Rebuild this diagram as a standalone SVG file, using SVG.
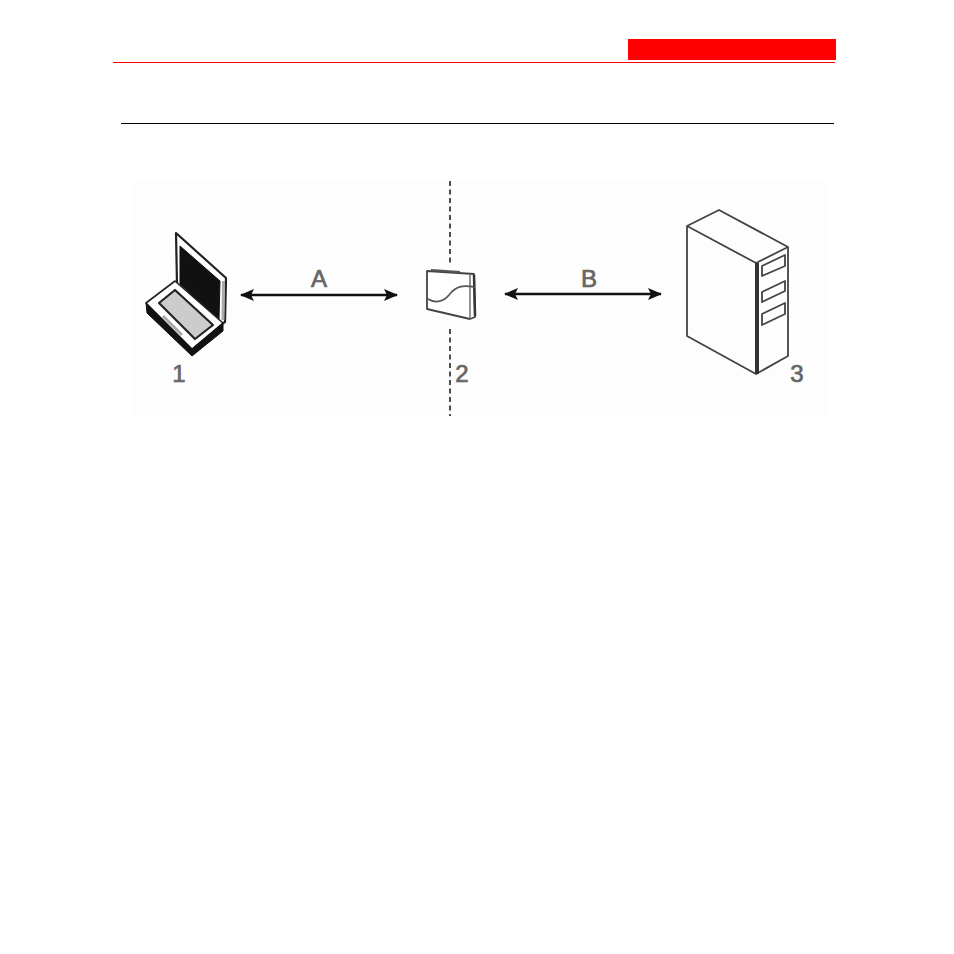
<svg xmlns="http://www.w3.org/2000/svg" width="954" height="954" viewBox="0 0 954 954">
<style>
.lbl{font-family:"Liberation Sans",Arial,sans-serif;font-size:24px;fill:#666;stroke:#666;stroke-width:.7;text-anchor:middle}
.ln{fill:none;stroke:#444;stroke-width:1.8;stroke-linejoin:round}
.dash{stroke:#222;stroke-width:1.6;stroke-dasharray:5 3.5;fill:none}
.arr{stroke:#111;stroke-width:2.4;fill:none;marker-start:url(#h);marker-end:url(#h)}
</style>
<defs>
<marker id="h" viewBox="0 0 14 12" refX="13" refY="6" markerWidth="14" markerHeight="12" markerUnits="userSpaceOnUse" orient="auto-start-reverse"><path d="M0 0L14 6L0 12L3 6Z" fill="#111"/></marker>
</defs>
<rect width="954" height="954" fill="#fff"/>
<g id="header">
<rect x="628" y="39" width="208" height="21" fill="#f00"/>
<rect x="113" y="62" width="722" height="1" fill="#f00"/>
<rect x="121" y="123" width="713" height="1" fill="#000"/>
</g>
<rect id="figure-bg" x="133" y="181" width="694" height="235" fill="#fdfdfd"/>
<g id="boundary">
<path class="dash" d="M450 181V264M450 329V416"/>
</g>
<g id="connectors">
<path class="arr" d="M241 295H397"/>
<path class="arr" d="M505 294H661"/>
</g>
<g id="laptop">
<path d="M176 233L226 278L225 322L222 324L177 284Z" fill="#fff" stroke="#222" stroke-width="2.2" stroke-linejoin="round"/>
<path d="M180 246L220 281L219 320L180 284Z" fill="#111" stroke="#111"/>
<path d="M223.500 281L223 320" stroke="#aaa" stroke-width="3" fill="none"/>
<path d="M146 303L175 281L223 323L192 349Z" fill="#fff" stroke="#222" stroke-width="1.6" stroke-linejoin="round"/>
<path d="M146 303L192 349L223 323V331L192 356L147 313Z" fill="#111" stroke="#111" stroke-linejoin="round"/>
<path d="M159 303L175 290L213 325L195 339Z" fill="#ccc" stroke="#222" stroke-width="2.200" stroke-linejoin="round"/>
<path d="M163 316L182 335" stroke="#aaa" stroke-width="3" fill="none"/>
<text class="lbl" x="179" y="382">1</text>
</g>
<g id="device">
<path d="M427 271L474 274L476 316L470 319L427 309Z" fill="#fff"/>
<path class="ln" d="M427 271L474 274L475 317L470 319L427 309Z"/>
<path d="M431 270L460 272" stroke="#555" stroke-width="1.800" fill="none"/>
<path d="M470 275V319" stroke="#666" stroke-width="1.400" fill="none"/>
<path d="M474 275L475 316" stroke="#333" stroke-width="2.500" fill="none"/>
<path d="M428 299C436 304 444 301 449 295C456 286 462 285 475 287" fill="none" stroke="#555" stroke-width="1.800"/>
<text class="lbl" x="462" y="382">2</text>
</g>
<g id="server">
<path class="ln" d="M687 226L719 210L788 247V356L756 374L687 336Z" fill="#fff"/>
<path class="ln" d="M687 226L756 263L788 247"/>
<path d="M757 263V374" stroke="#333" stroke-width="4" fill="none"/>
<path class="ln" d="M762 266L785 255V266L762 276Z" stroke-width="1.400"/>
<path class="ln" d="M762 292L785 281V291L762 302Z" stroke-width="1.400"/>
<path class="ln" d="M762 314L785 303V314L762 325Z" stroke-width="1.400"/>
<text class="lbl" x="797" y="382">3</text>
</g>
<g id="link-labels">
<text class="lbl" x="319" y="287">A</text>
<text class="lbl" x="589" y="287">B</text>
</g>
</svg>
